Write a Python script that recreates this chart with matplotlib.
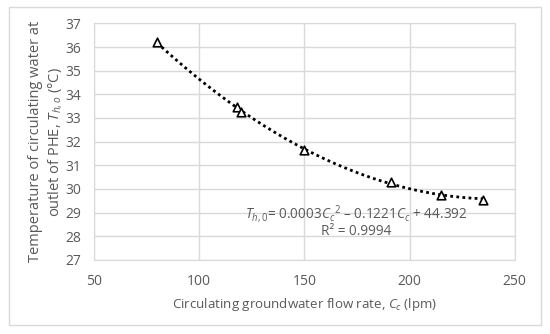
import numpy as np
import matplotlib
matplotlib.use("Agg")
import matplotlib.pyplot as plt
from matplotlib.patches import Rectangle

# Data
flow_rate = [80, 118, 120, 150, 191, 215, 235]
temperature = [36.2, 33.45, 33.25, 31.65, 30.3, 29.75, 29.55]
x_ticks = [50, 100, 150, 200, 250]
y_ticks = [27, 28, 29, 30, 31, 32, 33, 34, 35, 36, 37]

plt.rcParams["font.family"] = ["Open Sans", "DejaVu Sans"]
plt.rcParams["mathtext.fontset"] = "custom"
plt.rcParams["mathtext.rm"] = "Open Sans"
plt.rcParams["mathtext.it"] = "Open Sans:italic"

text_color = "#595959"
grid_color = "#d9d9d9"

fig = plt.figure(figsize=(5.5, 3.34), dpi=100)
ax = fig.add_axes([0.171, 0.222, 0.765, 0.708])

# outer chart border
fig.patches.append(Rectangle((9 / 550, 1 - 325 / 334), 532 / 550, 318 / 334,
                             transform=fig.transFigure, fill=False,
                             edgecolor=grid_color, linewidth=1))

# polynomial trendline (order 2)
coef = np.polyfit(flow_rate, temperature, 2)
xs = np.linspace(min(flow_rate), max(flow_rate), 200)
ax.plot(xs, np.polyval(coef, xs), color="black", linestyle=(0, (1, 1.2)),
        linewidth=2, zorder=2)

ax.scatter(flow_rate, temperature, marker="^", s=38, facecolors="white",
           edgecolors="black", linewidths=1.2, zorder=3)

ax.set_xlim(50, 250)
ax.set_ylim(27, 37)
ax.set_xticks(x_ticks)
ax.set_yticks(y_ticks)
ax.grid(True, color=grid_color, linewidth=1)
ax.set_axisbelow(True)
for s in ax.spines.values():
    s.set_color(grid_color)
ax.tick_params(axis="x", length=0, colors=text_color, labelsize=10, pad=10)
ax.tick_params(axis="y", length=0, colors=text_color, labelsize=10, pad=9)

ax.set_xlabel("Circulating groundwater flow rate, $C_c$ (lpm)",
              color=text_color, fontsize=9.6, labelpad=5)
ax.set_ylabel("Temperature of circulating water at\noutlet of PHE, $T_{h,o}$ (°C)",
              color=text_color, fontsize=10.5, labelpad=1, linespacing=1.3)

ax.text(174.5, 28.95, "$T_{h,0}$= 0.0003$C_c$$^2$ – 0.1221$C_c$ + 44.392",
        ha="center", va="center", color=text_color, fontsize=9.8)
ax.text(174.5, 28.22, "R² = 0.9994", ha="center", va="center",
        color=text_color, fontsize=9.8)

fig.savefig("out.png", dpi=100)
